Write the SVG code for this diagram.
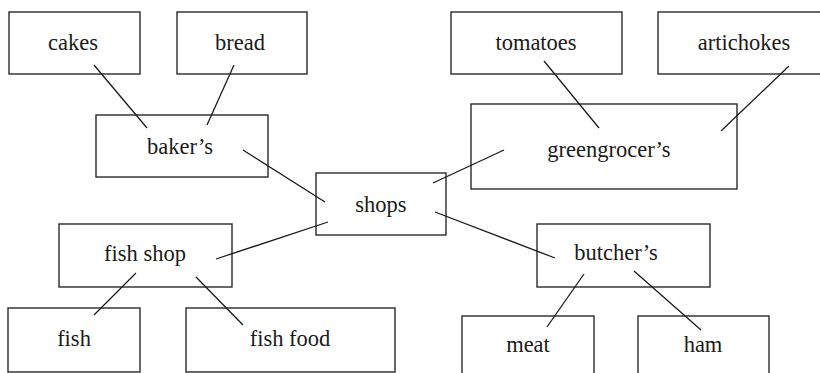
<svg xmlns="http://www.w3.org/2000/svg" width="820" height="373" viewBox="0 0 820 373">
<style>
rect{fill:#fff;stroke:#2a2a2a;stroke-width:1.4}
line{stroke:#1a1a1a;stroke-width:1.3}
.t{font-family:'Liberation Serif','Times New Roman','DejaVu Serif',serif;font-size:22.5px;fill:#1a1a1a;text-anchor:middle}
</style>
<rect x="0" y="0" width="820" height="373" style="stroke:none"/>
<g class="t">
<g id="cakes"><rect x="9" y="12" width="131" height="62"/><text x="73" y="50">cakes</text></g>
<g id="bread"><rect x="177" y="12" width="130" height="62"/><text x="240" y="50">bread</text></g>
<g id="tomatoes"><rect x="451" y="12" width="171" height="62"/><text x="536" y="50">tomatoes</text></g>
<g id="artichokes"><rect x="658" y="12" width="172" height="62"/><text x="744" y="50">artichokes</text></g>
<g id="bakers"><rect x="96" y="115" width="172" height="62"/><text x="180" y="154">baker’s</text></g>
<g id="greengrocers"><rect x="471" y="104" width="266" height="85"/><text x="609" y="157">greengrocer’s</text></g>
<g id="shops"><rect x="316" y="173" width="130" height="62"/><text x="381" y="212">shops</text></g>
<g id="fishshop"><rect x="59" y="224" width="173" height="63"/><text x="145" y="261">fish shop</text></g>
<g id="butchers"><rect x="537" y="224" width="173" height="63"/><text x="616" y="260">butcher’s</text></g>
<g id="fish"><rect x="8" y="308" width="132" height="64"/><text x="74" y="346">fish</text></g>
<g id="fishfood"><rect x="186" y="308" width="209" height="64"/><text x="290" y="346">fish food</text></g>
<g id="meat"><rect x="462" y="316" width="132" height="64"/><text x="528" y="352">meat</text></g>
<g id="ham"><rect x="638" y="316" width="131" height="64"/><text x="703" y="352">ham</text></g>
</g>
<g id="connectors">
<line x1="94" y1="65" x2="147" y2="128"/>
<line x1="234" y1="65" x2="207" y2="125"/>
<line x1="544" y1="61" x2="599" y2="128"/>
<line x1="789" y1="66" x2="721" y2="131"/>
<line x1="243" y1="150" x2="325" y2="202"/>
<line x1="504" y1="150" x2="433" y2="183"/>
<line x1="328" y1="222" x2="216" y2="259"/>
<line x1="435" y1="212" x2="555" y2="258"/>
<line x1="136" y1="273" x2="94" y2="315"/>
<line x1="196" y1="277" x2="243" y2="325"/>
<line x1="584" y1="274" x2="547" y2="327"/>
<line x1="634" y1="271" x2="701" y2="330"/>
</g>
</svg>
